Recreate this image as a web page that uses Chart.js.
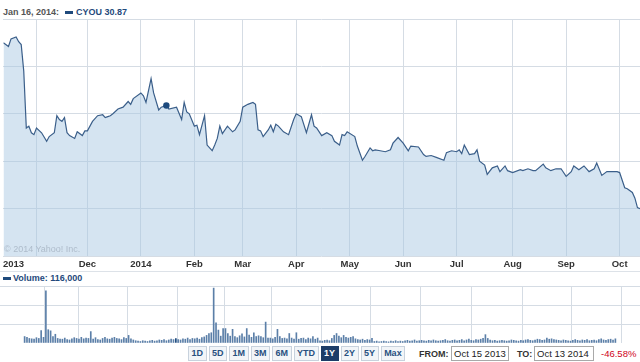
<!DOCTYPE html>
<html>
<head>
<meta charset="utf-8">
<script src="https://cdn.jsdelivr.net/npm/chart.js@4/dist/chart.umd.min.js"></script>
<style>
  html, body { margin: 0; padding: 0; background: #fff; }
  body { width: 640px; height: 362px; position: relative; overflow: hidden;
         font-family: "Liberation Sans", Arial, sans-serif; }
  .abs { position: absolute; }
  .lbl { font-weight: bold; font-size: 9px; color: #555; white-space: nowrap; }
  .ser { font-weight: bold; font-size: 9px; color: #1f4a7c; white-space: nowrap; }
  .sw { width: 8px; height: 3px; background: #1f4a7c; }
  #copy { left: 4px; top: 244px; font-size: 9px; color: #aebccb; }
  #sep { left: 0; top: 271px; width: 640px; height: 1px; background: #dde2e8; }
  #ranges { left: 188px; top: 346px; display: flex; gap: 2px; }
  #ranges span { display: block; height: 13px; line-height: 13px; padding: 0 2.5px;
                 border: 1px solid #c8d2dd; background: #f2f5f8; color: #28507f;
                 font-weight: bold; font-size: 9px; }
  #ranges span.on { background: #1d3d68; color: #fff; border-color: #1d3d68; }
  .box { height: 15px; line-height: 13px; border: 1px solid #a9a9a9; font-size: 9.5px;
         color: #222; padding: 0 2px; box-sizing: border-box; white-space: nowrap; }
</style>
</head>
<body>
<div class="abs lbl" style="left:3px;top:7px;">Jan 16, 2014:</div>
<div class="abs sw" style="left:65px;top:11px;"></div>
<div class="abs ser" style="left:76px;top:7px;">CYOU 30.87</div>

<canvas id="price" class="abs" width="640" height="252" style="left:0;top:19px;"></canvas>
<div id="copy" class="abs">&copy; 2014 Yahoo! Inc.</div>
<div id="sep" class="abs"></div>

<div class="abs sw" style="left:3px;top:277px;"></div>
<div class="abs ser" style="left:13px;top:273px;">Volume: 116,000</div>
<canvas id="volume" class="abs" width="640" height="57" style="left:0;top:286px;"></canvas>

<div id="ranges" class="abs">
  <span>1D</span><span>5D</span><span>1M</span><span>3M</span><span>6M</span><span>YTD</span><span class="on">1Y</span><span>2Y</span><span>5Y</span><span>Max</span>
</div>
<div class="abs lbl" style="left:419px;top:349px;color:#333;">FROM:</div>
<div class="abs box" style="left:451px;top:346px;width:58px;">Oct 15 2013</div>
<div class="abs lbl" style="left:517px;top:349px;color:#333;">TO:</div>
<div class="abs box" style="left:534px;top:346px;width:60px;">Oct 13 2014</div>
<div class="abs" style="left:601px;top:348px;font-size:9.5px;color:#d0021b;white-space:nowrap;">-46.58%</div>

<script>
// trading day index, 0 = Oct 15 2013, 250 = Oct 13 2014
var priceDays = [0, 2, 3, 5, 6, 7, 8, 9, 10, 11, 12, 13, 15, 17, 18, 20, 21, 22, 23, 24,
  25, 26, 28, 29, 31, 32, 33, 35, 37, 39, 40, 41, 42, 43, 45, 47, 49, 50, 51, 54,
  55, 56, 58, 59, 61, 62, 64, 65, 68, 70, 71, 72, 73, 75, 76, 77, 79, 80, 82, 83,
  84, 85, 86, 88, 90, 91, 93, 94, 96, 98, 99, 100, 101, 102, 104, 105, 106, 107, 108, 110,
  112, 114, 115, 117, 119, 121, 122, 123, 125, 127, 129, 130, 132, 133, 134, 135, 138, 139, 141, 142,
  144, 145, 146, 148, 150, 152, 153, 155, 157, 159, 160, 163, 165, 166, 168, 170, 173, 174, 176, 178,
  179, 180, 181, 183, 185, 186, 187, 189, 190, 192, 194, 195, 197, 198, 200, 203, 204, 206, 208, 209,
  212, 213, 215, 217, 219, 221, 223, 224, 226, 228, 230, 232, 233, 235, 237, 241, 242, 244, 245, 247,
  248, 249, 250];
var prices = [37.5, 37.1, 37.9, 38.1, 37.6, 37.3, 34.5, 28.5, 28.7, 28.0, 27.8, 28.5, 28.0, 27.1, 27.6, 28.0, 29.8, 29.4, 29.2, 29.6,
  28.0, 27.7, 27.4, 28.1, 27.7, 28.2, 28.2, 29.2, 29.8, 29.9, 29.6, 29.7, 29.8, 30.0, 30.5, 30.7, 31.3, 31.0, 31.6, 32.2,
  31.9, 31.2, 33.7, 32.2, 30.4, 30.7, 30.87, 30.5, 30.7, 29.4, 31.2, 30.2, 30.0, 28.7, 28.8, 27.8, 29.8, 26.7, 26.1, 26.7,
  27.4, 28.7, 27.9, 28.7, 28.1, 28.3, 29.2, 30.7, 31.0, 31.2, 31.0, 28.3, 28.2, 27.6, 28.3, 28.8, 28.1, 28.9, 28.7, 28.1,
  27.8, 29.4, 30.0, 29.7, 28.0, 29.9, 28.7, 28.5, 27.7, 28.0, 27.7, 27.1, 26.7, 27.8, 27.7, 28.1, 27.6, 26.6, 25.1, 25.5,
  26.4, 26.1, 26.2, 26.1, 26.0, 26.2, 26.9, 27.5, 26.9, 26.1, 26.6, 26.5, 25.7, 25.5, 25.6, 25.4, 25.1, 25.9, 26.1, 26.0,
  26.2, 25.8, 26.7, 25.7, 25.8, 26.2, 25.0, 24.6, 23.6, 24.3, 24.5, 23.9, 24.5, 24.0, 23.8, 24.1, 24.0, 24.2, 24.0, 24.0,
  24.7, 24.3, 24.0, 24.2, 24.2, 23.4, 23.9, 24.5, 24.1, 24.5, 23.9, 24.2, 24.8, 23.5, 23.9, 23.9, 23.8, 22.2, 22.1, 21.7,
  21.1, 20.1, 20.0];

// daily volume in thousands, one per trading day 0..250
var volumes = [
  170, 150, 120, 110, 100, 140, 120, 330, 150, 1370,
  350, 320, 170, 230, 120, 100, 100, 130, 90, 80,
  110, 140, 120, 100, 150, 110, 130, 120, 300, 100,
  140, 90, 80, 120, 150, 110, 100, 130, 150, 120,
  110, 90, 140, 120, 200, 110, 80, 60, 50, 40,
  60, 50, 40, 60, 70, 50, 60, 80, 70, 90,
  60, 80, 100, 90, 116, 90, 80, 110, 100, 130,
  90, 120, 110, 130, 100, 140, 160, 200, 250, 270,
  1445, 530, 340, 180, 380, 380, 250, 180, 360, 170,
  140, 190, 240, 160, 380, 210, 150, 270, 170, 190,
  170, 140, 550, 130, 130, 110, 150, 360, 170, 120,
  130, 110, 250, 130, 100, 270, 100, 120, 130, 90,
  130, 110, 170, 100, 130, 60, 50, 70, 80, 60,
  120, 200, 250, 180, 140, 200, 150, 130, 150, 170,
  110, 90, 80, 100, 70, 90, 80, 120, 40, 50,
  30, 40, 50, 40, 30, 50, 40, 60, 40, 50,
  40, 60, 70, 50, 60, 80, 50, 60, 70, 60,
  50, 70, 60, 80, 60, 50, 60, 70, 90, 60,
  50, 70, 80, 60, 70, 90, 60, 80, 100, 70,
  60, 90, 80, 100, 120, 220, 120, 80, 60, 70,
  50, 60, 70, 60, 50, 60, 80, 70, 60, 50,
  70, 60, 80, 90, 70, 60, 80, 100, 90, 70,
  80, 130, 100, 110, 90, 80, 70, 60, 80, 70,
  60, 50, 70, 90, 70, 60, 80, 70, 90, 60,
  70, 80, 60, 90, 110, 80, 70, 90, 100, 80,
  110];

var tickDays = [4, 13, 33, 54, 75, 94, 115, 136, 157, 178, 200, 221, 242];
var tickLabels = ['2013', '', 'Dec', '2014', 'Feb', 'Mar', 'Apr', 'May', 'Jun', 'Jul', 'Aug', 'Sep', 'Oct'];
var markDay = 64;

var gridColor = '#d5dce4';

function monthTicks(scale) {
  scale.ticks = tickDays.map(function (v) { return { value: v }; });
}

function monthGrid(ctx) {
  return tickLabels[ctx.index] === '2013' ? 'rgba(0,0,0,0)' : gridColor;
}

new Chart(document.getElementById('price'), {
  type: 'line',
  data: {
    datasets: [{
      data: priceDays.map(function (d, i) { return { x: d, y: prices[i] }; }),
      borderColor: '#3b5f8a',
      borderWidth: 1.2,
      backgroundColor: 'rgba(168, 199, 226, 0.48)',
      fill: 'start',
      tension: 0,
      pointRadius: function (ctx) { return ctx.raw && ctx.raw.x === markDay ? 3.2 : 0; },
      pointBackgroundColor: '#1d4a7e',
      pointBorderWidth: 0
    }]
  },
  options: {
    responsive: false,
    animation: false,
    layout: { padding: 0 },
    plugins: { legend: { display: false }, tooltip: { enabled: false } },
    scales: {
      x: {
        type: 'linear', min: 0, max: 250,
        afterBuildTicks: monthTicks,
        afterFit: function (s) { s.height = 15; },
        border: { display: false },
        grid: { color: monthGrid, drawTicks: false },
        ticks: {
          autoSkip: false, maxRotation: 0, padding: 3, color: '#333',
          font: { family: 'Liberation Sans, Arial, sans-serif', size: 9.5, weight: 'bold' },
          callback: function (v, i) { return tickLabels[i]; }
        }
      },
      y: {
        min: 15, max: 40,
        afterFit: function (s) { s.width = 0; },
        border: { display: false },
        grid: { color: gridColor, drawTicks: false },
        ticks: { display: false, stepSize: 5 }
      }
    }
  }
});

new Chart(document.getElementById('volume'), {
  type: 'bar',
  data: {
    datasets: [{
      data: volumes.map(function (v, i) { return { x: i, y: v }; }),
      backgroundColor: function (ctx) { return ctx.dataIndex === markDay ? '#1d4a7e' : '#5b7fa8'; },
      barThickness: function (ctx) { return ctx.dataIndex === markDay ? 5 : 1; }
    }]
  },
  options: {
    responsive: false,
    animation: false,
    layout: { padding: 0 },
    plugins: { legend: { display: false }, tooltip: { enabled: false } },
    scales: {
      x: {
        type: 'linear', min: 0, max: 250,
        afterBuildTicks: monthTicks,
        afterFit: function (s) { s.height = 0; },
        border: { display: false },
        grid: { color: monthGrid, drawTicks: false },
        ticks: { display: false }
      },
      y: {
        min: 0, max: 1500,
        afterFit: function (s) { s.width = 0; },
        border: { display: false },
        grid: { color: gridColor, drawTicks: false },
        ticks: { display: false, stepSize: 500 }
      }
    }
  }
});
</script>
</body>
</html>
